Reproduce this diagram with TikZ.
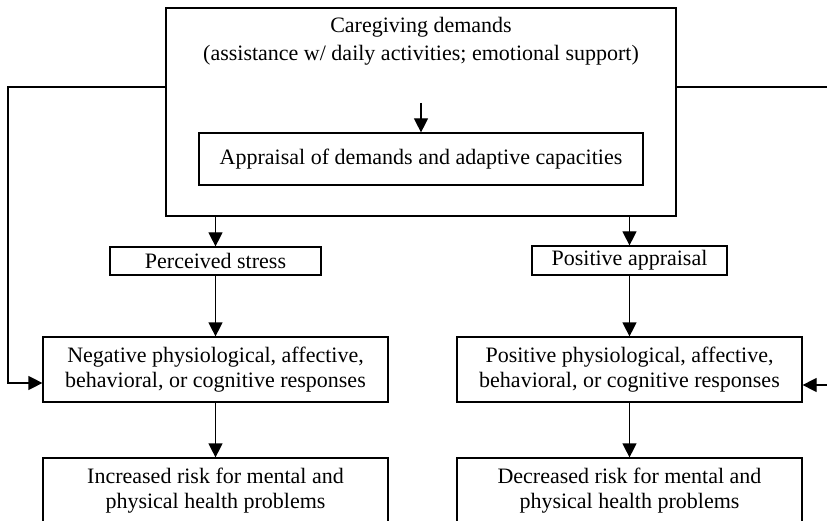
\documentclass[tikz,border=0pt]{standalone}
\usepackage{fontspec}
\setmainfont{Liberation Serif}
\usetikzlibrary{arrows.meta}
\begin{document}
\begin{tikzpicture}[x=1pt,y=-1pt,
  font=\fontsize{22}{25}\selectfont,
  line width=1.2pt,
  box/.style={draw, align=center, inner sep=0pt},
  arr/.style={-{Triangle[length=14pt,width=14pt]}}]
\useasboundingbox (0,0) rectangle (827,521);
\clip (0,0) rectangle (827,521);

% outer box with the demands and their appraisal
\node[box, minimum width=510pt, minimum height=208pt] (care) at (421,112) {};
\node[align=center, font=\fontsize{22}{28}\selectfont] (dem) at (421,41)
  {Caregiving demands\\(assistance w/ daily activities; emotional support)};
\node[box, minimum width=444pt, minimum height=52pt] (appr) at (421,159)
  {Appraisal of demands and adaptive capacities};
\coordinate (dtail) at (421,103);
\draw[arr] (dtail) -- (appr.north);

% two appraisal outcomes
\node[box, minimum width=211pt, minimum height=28pt] (stress) at (215.5,261) {Perceived stress};
\node[box, minimum width=195pt, minimum height=29pt] (posap) at (629.5,260.5) {Positive appraisal};

% responses
\node[box, minimum width=345pt, minimum height=65pt] (neg) at (215.5,369.5)
  {Negative physiological, affective,\\behavioral, or cognitive responses};
\node[box, minimum width=345pt, minimum height=65pt] (pos) at (629.5,369.5)
  {Positive physiological, affective,\\behavioral, or cognitive responses};

% health risk
\node[box, minimum width=345pt, minimum height=65pt] (inc) at (215.5,490.5)
  {Increased risk for mental and\\physical health problems};
\node[box, minimum width=345pt, minimum height=65pt] (dec) at (629.5,490.5)
  {Decreased risk for mental and\\physical health problems};

% vertical flow
\draw[arr] (care.south -| stress) -- (stress.north);
\draw[arr] (care.south -| posap) -- (posap.north);
\draw[arr] (stress.south) -- (neg.north);
\draw[arr] (posap.south) -- (pos.north);
\draw[arr] (neg.south) -- (inc.north);
\draw[arr] (pos.south) -- (dec.north);

% side loops from demands to responses
\coordinate (ltop) at (8,87);
\coordinate (lbot) at (8,383);
\draw[arr] (care.west |- ltop) -- (ltop) -- (lbot) -- (neg.west |- lbot);
\coordinate (rtop) at (840,87);
\coordinate (rbot) at (840,385);
\draw[arr] (care.east |- rtop) -- (rtop) -- (rbot) -- (pos.east |- rbot);
\end{tikzpicture}
\end{document}
